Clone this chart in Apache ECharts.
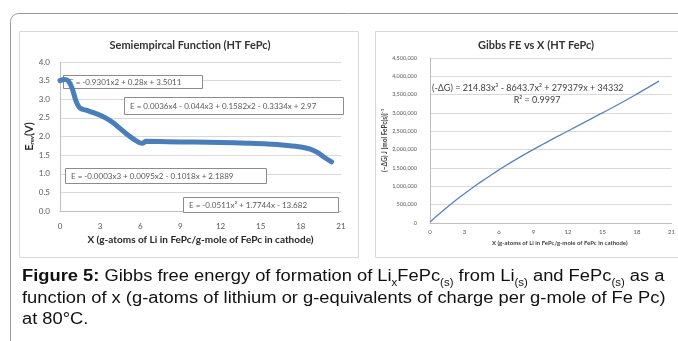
<!DOCTYPE html>
<html>
<head>
<meta charset="utf-8">
<script src="https://cdn.jsdelivr.net/npm/echarts@6/dist/echarts.min.js"></script>
<style>
html,body{margin:0;padding:0;background:#fff;}
#main{width:678px;height:341px;}
</style>
</head>
<body>
<div id="main"></div>
<script>
// left chart: semiempirical E_rev vs x
const semiX = [0, 0.3, 0.6, 0.9, 1.2, 1.5, 2, 2.5, 3, 3.5, 4, 4.5, 5, 5.5, 5.9, 6.2, 6.4, 8, 10, 12, 14, 15.5, 17, 18, 18.7, 19.3, 19.8, 20.3];
const semiE = [3.5, 3.53, 3.5, 3.3, 2.95, 2.76, 2.7, 2.64, 2.57, 2.48, 2.36, 2.21, 2.06, 1.93, 1.84, 1.82, 1.87, 1.86, 1.85, 1.84, 1.82, 1.8, 1.76, 1.72, 1.66, 1.56, 1.43, 1.32];
// right chart: Gibbs FE vs x
const gibbsX = [0, 1, 2, 3, 4, 5, 6, 8, 10, 12, 14, 16, 18, 19.9];
const gibbsG = [30000, 300000, 560000, 800000, 1030000, 1240000, 1450000, 1830000, 2180000, 2510000, 2840000, 3170000, 3520000, 3870000];

const eqLeft = [
  "E = -0.9301x2 + 0.28x + 3.5011",
  "E = 0.0036x4 - 0.044x3 + 0.1582x2 - 0.3334x + 2.97",
  "E = -0.0003x3 + 0.0095x2 - 0.1018x + 2.1889",
  "E = -0.0511x\u00b2 + 1.7744x - 13.682"
];
const eqRight = ["(-\u0394G) = 214.83x\u00b3 - 8643.7x\u00b2 + 279379x + 34332", "R\u00b2 = 0.9997"];

const FONT = "Lato, 'Open Sans', sans-serif";
const CAP = "'Liberation Sans', Arial, sans-serif";

function pairs(xs, ys) { return xs.map((x, i) => [x, ys[i]]); }

function eqBox(x, y, w, h, txt) {
  return [
    { type: 'rect', z: 1, shape: { x: x + 0.5, y: y + 0.5, width: w, height: h }, style: { fill: '#fff', stroke: '#8c8c8c', lineWidth: 1 } },
    { type: 'text', z: 1, style: { text: txt, x: x + 6, y: y + h / 2 + 0.5, font: "8px " + FONT, fill: '#595959', textVerticalAlign: 'middle' } }
  ];
}

const subRich = {
  s: { fontSize: 10, fontFamily: CAP, fill: '#111', verticalAlign: 'bottom', lineHeight: 22 },
  b: { fontSize: 16, fontWeight: 'bold', fontFamily: CAP, fill: '#111', lineHeight: 22 }
};
function capLine(y, txt) {
  return {
    type: 'text', x: 22, y: y, scaleX: 1.145, originX: 0, originY: 0,
    style: { text: txt, x: 0, y: 0, fontSize: 16, fontFamily: CAP, fill: '#111', lineHeight: 22, textVerticalAlign: 'middle', rich: subRich }
  };
}

const chart = echarts.init(document.getElementById('main'));
const option = {
  animation: false,
  backgroundColor: '#fff',
  grid: [
    { left: 60, top: 62, width: 281, height: 149 },
    { left: 430, top: 58, width: 245, height: 165 }
  ],
  xAxis: [
    {
      gridIndex: 0, type: 'value', min: 0, max: 21, interval: 3,
      name: 'X (g-atoms of Li in FePc/g-mole of FePc in cathode)', nameLocation: 'middle', nameGap: 24,
      nameTextStyle: { fontFamily: FONT, fontWeight: 'bold', fontSize: 10, color: '#262626' },
      axisLine: { lineStyle: { color: '#bfbfbf' } }, axisTick: { show: false },
      axisLabel: { fontFamily: FONT, fontSize: 8, color: '#595959', margin: 11 },
      splitLine: { show: false }
    },
    {
      gridIndex: 1, type: 'value', min: 0, max: 21, interval: 3,
      name: 'X (g-atoms of Li in FePc/g-mole of FePc in cathode)', nameLocation: 'middle', nameGap: 17,
      nameTextStyle: { fontFamily: FONT, fontWeight: 'bold', fontSize: 6, color: '#404040', padding: [0, 0, 0, 18] },
      axisLine: { lineStyle: { color: '#bfbfbf' } }, axisTick: { show: false },
      axisLabel: { fontFamily: FONT, fontSize: 6, color: '#595959', margin: 6 },
      splitLine: { show: false }
    }
  ],
  yAxis: [
    {
      gridIndex: 0, type: 'value', min: 0, max: 4, interval: 0.5,
      name: '{b|E}{s|rev}{b|(V)}', nameLocation: 'middle', nameRotate: 90, nameGap: 22,
      nameTextStyle: { rich: { b: { fontFamily: FONT, fontWeight: 'bold', fontSize: 11, color: '#262626' }, s: { fontFamily: FONT, fontWeight: 'bold', fontSize: 6, color: '#262626', verticalAlign: 'bottom' } } },
      axisLine: { show: true, lineStyle: { color: '#bfbfbf' } }, axisTick: { show: false },
      axisLabel: { fontFamily: FONT, fontSize: 8, color: '#595959', margin: 10, formatter: v => v.toFixed(1) },
      splitLine: { lineStyle: { color: '#d9d9d9' } }
    },
    {
      gridIndex: 1, type: 'value', min: 0, max: 4500000, interval: 500000,
      name: '(\u2212\u0394G) J [mol FePc(s)]\u207b\u00b9', nameLocation: 'middle', nameRotate: 90, nameGap: 40,
      nameTextStyle: { fontFamily: FONT, fontWeight: 'bold', fontSize: 6.5, color: '#404040' },
      axisLine: { show: true, lineStyle: { color: '#bfbfbf' } }, axisTick: { show: false },
      axisLabel: { fontFamily: FONT, fontSize: 5.5, color: '#595959', margin: 13, formatter: v => v.toLocaleString('en-US') },
      splitLine: { lineStyle: { color: '#d9d9d9' } }
    }
  ],
  series: [
    {
      type: 'line', xAxisIndex: 0, yAxisIndex: 0, data: pairs(semiX, semiE),
      smooth: 0.3, showSymbol: false, z: 3,
      lineStyle: { color: '#4a7ebb', width: 5, cap: 'round', join: 'round' }
    },
    {
      type: 'line', xAxisIndex: 1, yAxisIndex: 1, data: pairs(gibbsX, gibbsG),
      smooth: true, showSymbol: false,
      lineStyle: { color: '#5b83b8', width: 1.3 }
    }
  ],
  graphic: [
    { type: 'rect', shape: { x: 10.5, y: 13.5, width: 720, height: 400, r: 8 }, style: { fill: 'none', stroke: '#9a9a9a', lineWidth: 1 } },
    { type: 'rect', shape: { x: 19.5, y: 31.5, width: 339, height: 226 }, style: { fill: 'none', stroke: '#d9d9d9', lineWidth: 1 } },
    { type: 'rect', shape: { x: 375.5, y: 31.5, width: 340, height: 226 }, style: { fill: 'none', stroke: '#d9d9d9', lineWidth: 1 } },
    { type: 'text', style: { text: 'Semiempircal Function (HT FePc)', x: 190, y: 45, font: "bold 11px " + FONT, fill: '#333', textAlign: 'center', textVerticalAlign: 'middle' } },
    { type: 'text', style: { text: 'Gibbs FE vs X (HT FePc)', x: 536, y: 45, font: "bold 11px " + FONT, fill: '#333', textAlign: 'center', textVerticalAlign: 'middle' } },
    ...eqBox(63, 75, 139, 13, eqLeft[0]),
    ...eqBox(124, 97, 219, 17, eqLeft[1]),
    ...eqBox(65, 168, 201, 15, eqLeft[2]),
    ...eqBox(183, 197, 155, 15, eqLeft[3]),
    { type: 'text', z: 1, style: { text: eqRight[0], x: 432, y: 88, font: "9px " + FONT, fill: '#404040', textVerticalAlign: 'middle' } },
    { type: 'text', z: 1, style: { text: eqRight[1], x: 537, y: 100, font: "9px " + FONT, fill: '#404040', textAlign: 'center', textVerticalAlign: 'middle' } },
    capLine(277, '{b|Figure 5:} Gibbs free energy of formation of Li{s|x}FePc{s|(s)} from Li{s|(s)} and FePc{s|(s)} as a'),
    capLine(298.5, 'function of x (g-atoms of lithium or g-equivalents of charge per g-mole of Fe Pc)'),
    capLine(320, 'at 80\u00b0C.')
  ]
};
chart.setOption(option);
window.addEventListener('resize', chart.resize);
</script>
</body>
</html>
